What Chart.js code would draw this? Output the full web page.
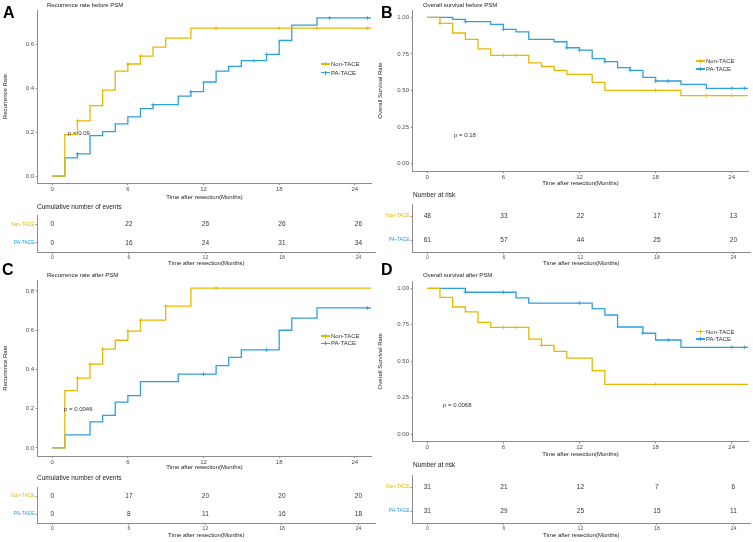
<!DOCTYPE html>
<html>
<head>
<meta charset="utf-8">
<script src="https://cdn.jsdelivr.net/npm/chart.js@4.4.0/dist/chart.umd.min.js"></script>
<style>
  html, body { margin: 0; padding: 0; background: #fff; }
  #page { position: relative; width: 753px; height: 542px; overflow: hidden; font-family: "Liberation Sans", Arial, sans-serif; color: #222; }
  canvas { position: absolute; }
  .t { position: absolute; white-space: nowrap; line-height: 1; }
  .letter { font-weight: bold; font-size: 16px; color: #000; }
  .sub { font-size: 6px; color: #222; }
  .tab { font-size: 6.5px; color: #222; }
  .p { font-size: 6px; color: #333; }
  .leg { position: absolute; font-size: 6px; line-height: 6px; color: #333; white-space: nowrap; padding-left: 10px; }
  .leg b { position: absolute; left: 0; top: 2.4px; width: 9px; height: 1.3px; }
  .leg s { position: absolute; left: 4px; top: 1px; width: 1px; height: 4px; }
</style>
</head>
<body>
<div id="page">
  <canvas id="kmA" width="376" height="201" style="left:0;top:0"></canvas>
  <canvas id="kmB" width="378" height="187" style="left:375px;top:0"></canvas>
  <canvas id="kmC" width="376" height="206" style="left:0;top:265px"></canvas>
  <canvas id="kmD" width="378" height="193" style="left:375px;top:265px"></canvas>
  <canvas id="tabA" width="376" height="67" style="left:0;top:200px"></canvas>
  <canvas id="tabB" width="378" height="77" style="left:375px;top:190px"></canvas>
  <canvas id="tabC" width="376" height="69" style="left:0;top:470px"></canvas>
  <canvas id="tabD" width="378" height="79" style="left:375px;top:460px"></canvas>

  <div class="t letter" style="left:3px;top:4.5px">A</div>
  <div class="t letter" style="left:381px;top:4.5px">B</div>
  <div class="t letter" style="left:2px;top:261.5px">C</div>
  <div class="t letter" style="left:381px;top:261.5px">D</div>

  <div class="t sub" style="left:47px;top:2px">Recurrence rate before PSM</div>
  <div class="t sub" style="left:423px;top:2px">Overall survival before PSM</div>
  <div class="t sub" style="left:47px;top:272px">Recurrence rate after PSM</div>
  <div class="t sub" style="left:423px;top:272px">Overall survival after PSM</div>

  <div class="t tab" style="left:37px;top:203.7px">Cumulative number of events</div>
  <div class="t tab" style="left:413px;top:191.7px">Number at risk</div>
  <div class="t tab" style="left:37px;top:474.7px">Cumulative number of events</div>
  <div class="t tab" style="left:413px;top:461.7px">Number at risk</div>

  <div class="t p" style="left:68px;top:130px">p = 0.09</div>
  <div class="t p" style="left:454px;top:132px">p = 0.18</div>
  <div class="t p" style="left:64px;top:406px">p = 0.0046</div>
  <div class="t p" style="left:443px;top:402px">p = 0.0068</div>

  <div class="leg" style="left:321px;top:61px"><b style="background:#E7B800"></b><s style="background:#E7B800"></s>Non-TACE</div>
  <div class="leg" style="left:321px;top:69.7px"><b style="background:#2E9FDF"></b><s style="background:#2E9FDF"></s>PA-TACE</div>
  <div class="leg" style="left:696px;top:58px"><b style="background:#E7B800"></b><s style="background:#E7B800"></s>Non-TACE</div>
  <div class="leg" style="left:696px;top:66px"><b style="background:#2E9FDF"></b><s style="background:#2E9FDF"></s>PA-TACE</div>
  <div class="leg" style="left:321px;top:333px"><b style="background:#E7B800"></b><s style="background:#E7B800"></s>Non-TACE</div>
  <div class="leg" style="left:321px;top:340.3px"><b style="background:#2E9FDF"></b><s style="background:#2E9FDF"></s>PA-TACE</div>
  <div class="leg" style="left:696px;top:328.7px"><b style="background:#E7B800"></b><s style="background:#E7B800"></s>Non-TACE</div>
  <div class="leg" style="left:696px;top:336px"><b style="background:#2E9FDF"></b><s style="background:#2E9FDF"></s>PA-TACE</div>
</div>

<script>
/* global Chart */

const YELLOW = "#E7B800";
const BLUE = "#2E9FDF";
const AXIS = "#8c8c8c";
const TICK_TXT = "#4d4d4d";
const FONT = '"Liberation Sans", Arial, sans-serif';
const X_MIN = -1.15;
const X_MAX = 25.3;

const groups = ["Non-TACE", "PA-TACE"];
const xTicks = [0, 6, 12, 18, 24];
const rateTicks = [0, 0.2, 0.4, 0.6, 0.8];
const survTicks = [0, 0.25, 0.5, 0.75, 1];

// A: recurrence before PSM
const aNonTime = [0, 1, 2, 3, 4, 5, 6, 7, 8, 9, 11, 25.3];
const aNonRate = [0, 0.189, 0.252, 0.321, 0.392, 0.479, 0.511, 0.547, 0.588, 0.629, 0.674, 0.674];
const aNonCensor = [2, 6, 7, 13, 18, 21, 25];
const aPaTime = [0, 1, 2, 3, 4, 5, 6, 7, 8, 10, 11, 12, 13, 14, 15, 17, 18, 19, 21, 25.3];
const aPaRate = [0, 0.083, 0.102, 0.185, 0.203, 0.238, 0.27, 0.308, 0.326, 0.365, 0.385, 0.429, 0.479, 0.5, 0.526, 0.555, 0.618, 0.688, 0.721, 0.721];
const aPaCensor = [2, 8, 11, 16, 17, 22, 25];

// B: overall survival before PSM
const bNonTime = [0, 1, 2, 3, 4, 5, 8, 9, 10, 11, 13, 14, 20, 25.3];
const bNonSurv = [1, 0.959, 0.893, 0.849, 0.785, 0.74, 0.689, 0.664, 0.637, 0.61, 0.556, 0.501, 0.465, 0.465];
const bNonCensor = [1, 6, 7, 18, 22, 24];
const bPaTime = [0, 2, 3, 5, 6, 7, 8, 10, 11, 12, 13, 14, 15, 16, 17, 18, 20, 22, 25.3];
const bPaSurv = [1, 0.986, 0.97, 0.952, 0.918, 0.9, 0.849, 0.833, 0.792, 0.776, 0.718, 0.697, 0.656, 0.638, 0.59, 0.565, 0.542, 0.515, 0.515];
const bPaCensor = [3, 6, 11, 12, 14, 16, 18, 19, 24, 25];

// C: recurrence after PSM
const cNonTime = [0, 1, 2, 3, 4, 5, 6, 7, 9, 11, 25.3];
const cNonRate = [0, 0.292, 0.356, 0.427, 0.504, 0.549, 0.595, 0.651, 0.723, 0.815, 0.815];
const cNonCensor = [2, 3, 4, 6, 7, 9, 13];
const cPaTime = [0, 1, 3, 4, 5, 6, 7, 10, 13, 14, 15, 18, 19, 21, 25.3];
const cPaRate = [0, 0.067, 0.133, 0.166, 0.234, 0.267, 0.338, 0.376, 0.42, 0.462, 0.5, 0.6, 0.662, 0.714, 0.714];
const cPaCensor = [12, 17, 25];

// D: overall survival after PSM
const dNonTime = [0, 1, 2, 3, 4, 5, 8, 9, 10, 11, 13, 14, 25.3];
const dNonSurv = [1, 0.938, 0.872, 0.838, 0.767, 0.732, 0.652, 0.609, 0.568, 0.522, 0.436, 0.342, 0.342];
const dNonCensor = [6, 7, 9, 18];
const dPaTime = [0, 3, 7, 8, 13, 14, 15, 17, 18, 20, 25.3];
const dPaSurv = [1, 0.973, 0.934, 0.899, 0.861, 0.817, 0.735, 0.692, 0.646, 0.596, 0.596];
const dPaCensor = [3, 6, 12, 17, 19, 24, 25];

// risk tables
const aEventsNon = [0, 22, 26, 26, 26];
const aEventsPa = [0, 16, 24, 31, 34];
const bRiskNon = [48, 33, 22, 17, 13];
const bRiskPa = [61, 57, 44, 25, 20];
const cEventsNon = [0, 17, 20, 20, 20];
const cEventsPa = [0, 8, 11, 16, 18];
const dRiskNon = [31, 21, 12, 7, 6];
const dRiskPa = [31, 29, 25, 15, 11];

function valueAt(times, values, t) {
  let v = values[0];
  for (let i = 0; i < times.length; i++) {
    if (times[i] <= t) v = values[i];
  }
  return v;
}

function xScale(box, tickSize) {
  return {
    type: "linear",
    min: X_MIN,
    max: X_MAX,
    afterBuildTicks: (s) => {
      s.ticks = xTicks.map((v) => ({ value: v }));
    },
    afterFit: (s) => {
      s.height = box.xH;
    },
    grid: { drawOnChartArea: false, tickLength: 2, color: AXIS },
    border: { color: AXIS, width: 1 },
    ticks: { font: { size: tickSize, family: FONT }, color: TICK_TXT, padding: 0.5, maxRotation: 0, callback: (v) => String(v) },
    title: { display: true, text: "Time after resection(Months)", font: { size: 6, family: FONT }, color: "#222", padding: 0 },
  };
}

function kmChart(id, box, yTitle, yMin, yMax, yTicks, digits, series) {
  const datasets = [];
  for (const s of series) {
    datasets.push({
      data: s.time.map((t, i) => ({ x: t, y: s.value[i] })),
      showLine: true,
      stepped: "before",
      borderColor: s.color,
      borderWidth: 1.3,
      pointRadius: 0,
      fill: false,
    });
    datasets.push({
      data: s.censor.map((t) => ({ x: t, y: valueAt(s.time, s.value, t) })),
      showLine: false,
      pointStyle: "cross",
      pointRadius: 2,
      pointBorderWidth: 0.8,
      borderColor: s.color,
      backgroundColor: s.color,
    });
  }
  return new Chart(document.getElementById(id), {
    type: "scatter",
    data: { datasets },
    options: {
      responsive: false,
      animation: false,
      layout: { padding: { top: box.padTop, right: box.padRight, left: 0, bottom: 0 } },
      plugins: { legend: { display: false }, tooltip: { enabled: false } },
      scales: {
        x: xScale(box, 6),
        y: {
          min: yMin,
          max: yMax,
          afterBuildTicks: (s) => {
            s.ticks = yTicks.filter((v) => v <= yMax).map((v) => ({ value: v }));
          },
          afterFit: (s) => {
            s.width = 37.7;
          },
          grid: { drawOnChartArea: false, tickLength: 2, color: AXIS },
          border: { color: AXIS, width: 1 },
          ticks: { font: { size: 6, family: FONT }, color: TICK_TXT, padding: 1.7, callback: (v) => Number(v).toFixed(digits) },
          title: { display: true, text: yTitle, font: { size: 6, family: FONT }, color: "#222", padding: { top: 1.4, bottom: 0 } },
        },
      },
    },
  });
}

const tableText = {
  id: "tableText",
  afterDatasetsDraw(chart) {
    const ctx = chart.ctx;
    ctx.save();
    ctx.font = "6.5px " + FONT;
    ctx.fillStyle = "#333";
    ctx.textAlign = "center";
    ctx.textBaseline = "middle";
    chart.data.datasets.forEach((ds, i) => {
      chart.getDatasetMeta(i).data.forEach((pt, j) => {
        ctx.fillText(String(ds.counts[j]), pt.x, pt.y);
      });
    });
    ctx.restore();
  },
};

function tableChart(id, box, nonVals, paVals) {
  const datasets = [
    { data: xTicks.map((t) => ({ x: t, y: groups[0] })), counts: nonVals, pointRadius: 0 },
    { data: xTicks.map((t) => ({ x: t, y: groups[1] })), counts: paVals, pointRadius: 0 },
  ];
  return new Chart(document.getElementById(id), {
    type: "scatter",
    data: { datasets },
    plugins: [tableText],
    options: {
      responsive: false,
      animation: false,
      layout: { padding: { top: box.padTop, right: box.padRight, left: 0, bottom: 0 } },
      plugins: { legend: { display: false }, tooltip: { enabled: false } },
      scales: {
        x: xScale(box, 5),
        y: {
          type: "category",
          labels: groups,
          offset: true,
          afterFit: (s) => {
            s.width = 37.7;
          },
          grid: { drawOnChartArea: false, tickLength: 2, color: AXIS },
          border: { color: AXIS, width: 1 },
          ticks: { font: { size: 5, family: FONT }, color: (c) => (c.index === 0 ? YELLOW : BLUE), padding: 1 },
        },
      },
    },
  });
}

window.addEventListener("DOMContentLoaded", () => {
  kmChart("kmA", { padTop: 10, padRight: 1, xH: 18 }, "Recurrence Rate", -0.031, 0.757, rateTicks, 1, [
    { time: aNonTime, value: aNonRate, censor: aNonCensor, color: YELLOW },
    { time: aPaTime, value: aPaRate, censor: aPaCensor, color: BLUE },
  ]);
  kmChart("kmB", { padTop: 10, padRight: 3, xH: 16 }, "Overall Survival Rate", -0.05, 1.05, survTicks, 2, [
    { time: bNonTime, value: bNonSurv, censor: bNonCensor, color: YELLOW },
    { time: bPaTime, value: bPaSurv, censor: bPaCensor, color: BLUE },
  ]);
  kmChart("kmC", { padTop: 15, padRight: 1, xH: 15 }, "Recurrence Rate", -0.041, 0.856, rateTicks, 1, [
    { time: cNonTime, value: cNonRate, censor: cNonCensor, color: YELLOW },
    { time: cPaTime, value: cPaRate, censor: cPaCensor, color: BLUE },
  ]);
  kmChart("kmD", { padTop: 16, padRight: 3, xH: 16.4 }, "Overall Survival Rate", -0.05, 1.05, survTicks, 2, [
    { time: dNonTime, value: dNonSurv, censor: dNonCensor, color: YELLOW },
    { time: dPaTime, value: dPaSurv, censor: dPaCensor, color: BLUE },
  ]);

  tableChart("tabA", { padTop: 15, padRight: 1, xH: 15 }, aEventsNon, aEventsPa);
  tableChart("tabB", { padTop: 14, padRight: 3, xH: 15 }, bRiskNon, bRiskPa);
  tableChart("tabC", { padTop: 17, padRight: 1, xH: 16 }, cEventsNon, cEventsPa);
  tableChart("tabD", { padTop: 15, padRight: 3, xH: 16 }, dRiskNon, dRiskPa);
});
</script>
</body>
</html>
